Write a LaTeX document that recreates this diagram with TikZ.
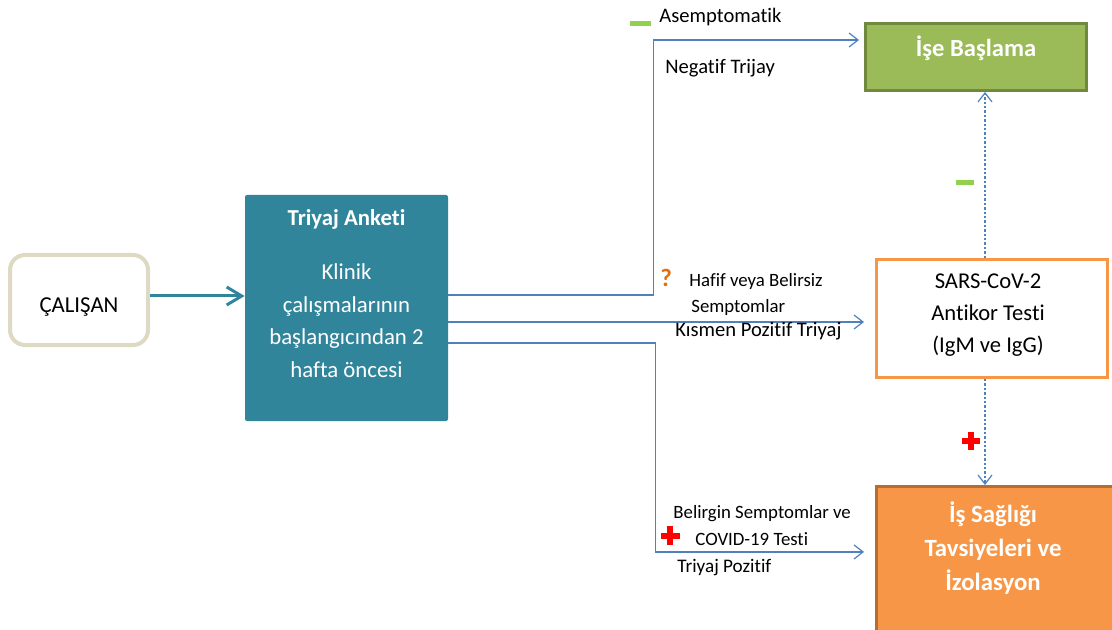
\documentclass[tikz,border=0pt]{standalone}
\usepackage{fontspec}
\setmainfont{Carlito}[Ligatures=NoCommon]
\usetikzlibrary{arrows.meta}
\definecolor{anketmavi}{RGB}{49,133,155}
\definecolor{bej}{RGB}{221,217,195}
\definecolor{cizgimavi}{RGB}{79,129,189}
\definecolor{yesil}{RGB}{155,187,89}
\definecolor{koyuyesil}{RGB}{113,137,63}
\definecolor{turuncu}{RGB}{247,150,70}
\definecolor{koyuturuncu}{RGB}{182,109,49}
\definecolor{acikyesil}{RGB}{146,208,80}
\definecolor{soru}{RGB}{228,108,10}

\begin{document}
\begin{tikzpicture}[x=0.5pt, y=-0.5pt,
  ince/.style={draw=cizgimavi, line width=0.6pt, -{Straight Barb[length=4.5pt,width=7pt]}},
  kesik/.style={ince, dash pattern=on 1.2pt off 1pt},
  kutuyazi/.style={anchor=base, inner sep=0, align=center, font=\fontsize{11.4}{16.2}\selectfont},
  etiket/.style={anchor=base west, inner sep=0, font=\fontsize{10.3}{12}\selectfont},
  kucuk/.style={etiket, font=\fontsize{9.4}{12}\selectfont}]

\useasboundingbox (0,0) rectangle (1112,630);

% kutular
\node[draw=bej, line width=2pt, rounded corners=7.5pt, minimum width=69pt, minimum height=45pt] (calisan) at (79,300) {};
\node[kutuyazi] (calisanyazi) at (79,313) {ÇALIŞAN};

\node[fill=anketmavi, rounded corners=1pt, minimum width=101.5pt, minimum height=113pt] (anket) at (346.5,308) {};
\node[kutuyazi, text=white] (anketyazi) at (346.5,377) {\textbf{Triyaj Anketi}\\[11pt] Klinik\\ çalışmalarının\\ başlangıcından 2\\ hafta öncesi};

\node[fill=yesil, draw=koyuyesil, line width=1.5pt, minimum width=110.5pt, minimum height=33.5pt] (ise) at (976,57) {};
\node[kutuyazi, text=white, font=\fontsize{12.3}{16}\selectfont\bfseries] (iseyazi) at (976,57) {İşe Başlama};

\node[draw=turuncu, line width=1.5pt, minimum width=115.5pt, minimum height=59pt] (sars) at (992,318.5) {};
\node[kutuyazi, font=\fontsize{11.3}{16}\selectfont] (sarsyazi) at (988,352) {SARS-CoV-2\\ Antikor Testi\\ (IgM ve IgG)};

\node[fill=turuncu, draw=koyuturuncu, line width=1.5pt, minimum width=121.75pt, minimum height=74.25pt] (saglik) at (998.25,560.75) {};
\node[kutuyazi, text=white, font=\fontsize{12.4}{17}\selectfont\bfseries] (saglikyazi) at (993,590) {İş Sağlığı\\ Tavsiyeleri ve\\ İzolasyon};

% oklar
\draw[draw=anketmavi, line width=1.5pt, -{Straight Barb[length=7.5pt,width=9pt]}] ([yshift=2pt]calisan.east) -- ([yshift=2pt]calisan.east -| anket.west);
\draw[ince, shorten >=2.5pt] ([yshift=6.5pt]anket.east) -- ++(205,0) |- ([yshift=8.5pt]ise.west);
\draw[ince, shorten >=5.5pt] ([yshift=-7pt]anket.east) -- ([yshift=-7pt]anket.east -| sars.west);
\draw[ince, shorten >=5.5pt] ([yshift=-17.5pt]anket.east) -- ++(207,0) |- ([yshift=4.4pt]saglik.west);
\draw[kesik] ([xshift=-3.5pt]sars.north) -- ([xshift=-3.5pt]sars.north |- ise.south);
\draw[kesik] ([xshift=-3.5pt]sars.south) -- ([xshift=-3.5pt]sars.south |- saglik.north);

% etiketler
\fill[acikyesil] (630,21) rectangle (651,26);
\node[etiket] (asemp) at (659,23) {Asemptomatik};
\node[etiket] (negatif) at (665,74) {Negatif Trijay};

\node[etiket, text=soru, font=\fontsize{12.5}{14}\selectfont\bfseries] (soruisareti) at (660,287) {?};
\node[kucuk] (hafif) at (689,287) {Hafif veya Belirsiz};
\node[kucuk] (semp) at (691,313) {Semptomlar};
\node[etiket] (kismen) at (675,336) {Kısmen Pozitif Triyaj};

\fill[red] (667,526) rectangle (673,545);
\fill[red] (661,532.5) rectangle (680,538.5);
\node[kucuk] (belirgin) at (673,518) {Belirgin Semptomlar ve};
\node[kucuk] (covid) at (695,545) {COVID-19 Testi};
\node[etiket, font=\fontsize{9.6}{12}\selectfont] (pozitif) at (677,572) {Triyaj Pozitif};

\fill[acikyesil] (956,180) rectangle (974,185);
\fill[red] (968,432) rectangle (974,450);
\fill[red] (962,438) rectangle (980,444);

\end{tikzpicture}
\end{document}
